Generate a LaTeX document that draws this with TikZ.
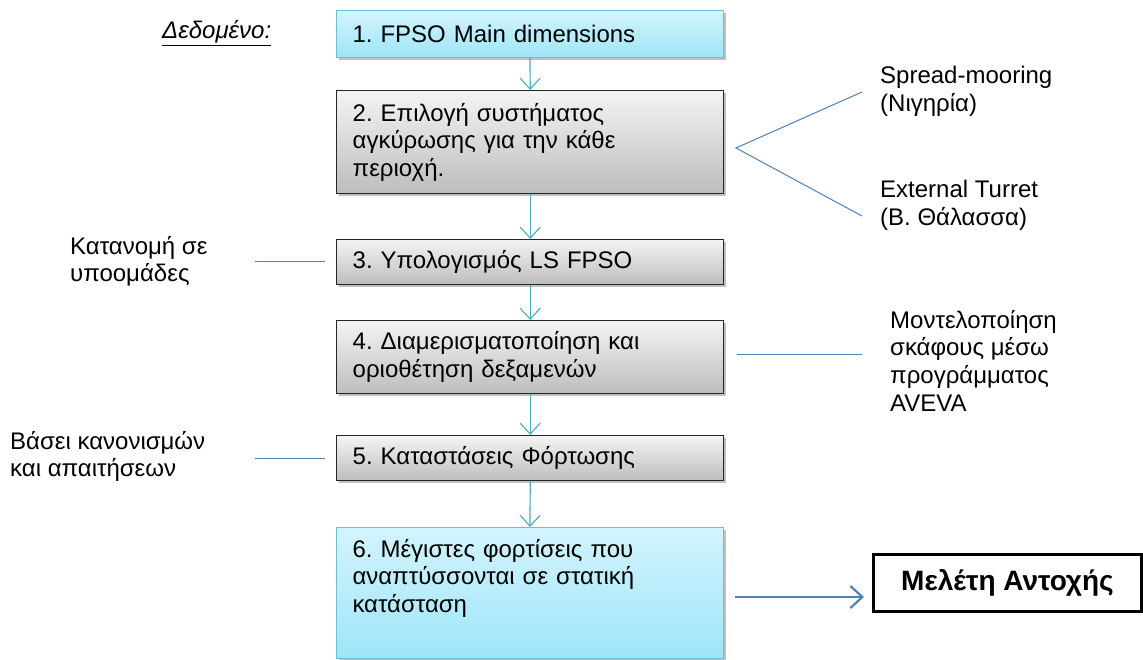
\documentclass[tikz,border=0pt]{standalone}
\usepackage{fontspec}
\setmainfont{Liberation Sans}
\usetikzlibrary{arrows.meta,shadows}
\frenchspacing

\definecolor{arrowteal}{HTML}{4BACC6}
\definecolor{linkblue}{HTML}{4F81BD}
\definecolor{cyantop}{HTML}{D3F4FD}
\definecolor{cyanbot}{HTML}{9EE5F8}
\definecolor{cyanedge}{HTML}{6FBFD3}
\definecolor{graytop}{HTML}{F4F4F4}
\definecolor{graybot}{HTML}{BDBDBD}

\tikzset{
  x=1pt, y=-1pt,
  basebox/.style={rectangle, minimum width=387pt, inner xsep=16pt, inner ysep=0pt,
    text width=355pt, align=left, anchor=north west,
    font=\fontsize{24}{27.6}\selectfont,
    drop shadow={shadow xshift=2pt, shadow yshift=-2.5pt, opacity=0.35, fill=black!70}},
  cyanbox/.style={basebox, draw=cyanedge, line width=1pt,
    top color=cyantop, bottom color=cyanbot},
  graybox/.style={basebox, draw=black!85, line width=1.4pt,
    top color=graytop, bottom color=graybot},
  flow/.style={draw=arrowteal, line width=1.2pt,
    -{Straight Barb[length=11pt, width=20pt, line width=1.1pt]}},
  link/.style={draw=linkblue, line width=1pt},
  sidetext/.style={anchor=north west, inner sep=0pt, align=left,
    font=\fontsize{24}{27.6}\selectfont},
}

\begin{document}
\begin{tikzpicture}
\useasboundingbox (0,0) rectangle (1143,660);
\fill[white] (0,0) rectangle (1143,660);

% main chain of steps
\node[cyanbox, minimum height=47pt] (s1) at (336,10) {1. FPSO Main dimensions};
\node[graybox, minimum height=103pt] (s2) at (336,90)
  {2. Επιλογή συστήματος\\αγκύρωσης για την κάθε\\περιοχή.};
\node[graybox, minimum height=45pt] (s3) at (336,239) {3. Υπολογισμός LS FPSO};
\node[graybox, minimum height=73pt] (s4) at (336,320)
  {4. Διαμερισματοποίηση και\\οριοθέτηση δεξαμενών};
\node[graybox, minimum height=45pt] (s5) at (336,435) {5. Καταστάσεις Φόρτωσης};
\node[cyanbox, minimum height=131pt] (s6) at (336,527)
  {\parbox[c][108pt][t]{355pt}{\raggedright 6. Μέγιστες φορτίσεις που\\αναπτύσσονται σε στατική\\κατάσταση}};

% final target
\node[draw=black, line width=3pt, rectangle, minimum width=268pt, minimum height=57pt,
  anchor=north west, font=\bfseries\fontsize{28}{32}\selectfont] (res) at (872,553)
  {Μελέτη Αντοχής};

% flow arrows
\draw[flow] (s1.south) -- (s2.north);
\draw[flow] (s2.south) -- (s3.north);
\draw[flow] (s3.south) -- (s4.north);
\draw[flow] (s4.south) -- (s5.north);
\draw[flow] (s5.south) -- (s6.north);

\coordinate (a6) at (735,597);
\coordinate (ares) at (864,597);
\draw[draw=linkblue, line width=2.6pt,
  -{Straight Barb[length=12pt, width=22pt, line width=2.2pt]}] (a6) -- (ares);

% given
\node[anchor=west, inner sep=0pt, font=\itshape\fontsize{24}{28}\selectfont] (given) at (162,33)
  {\underline{Δεδομένο:}};

% notes and their links
\node[sidetext] (n1a) at (880,66) {Spread-mooring\\(Νιγηρία)};
\node[sidetext] (n1b) at (880,180) {External Turret\\(Β. Θάλασσα)};
\coordinate (fork) at (736,148);
\coordinate (forkup) at (862,92);
\coordinate (forkdn) at (862,216);
\draw[link] (forkup) -- (fork) -- (forkdn);

\node[sidetext] (n3) at (70,236) {Κατανομή σε\\υποομάδες};
\coordinate (l3a) at (255,262);
\coordinate (l3b) at (325,262);
\draw[link] (l3a) -- (l3b);

\node[sidetext] (n4) at (890,310) {Μοντελοποίηση\\σκάφους μέσω\\προγράμματος\\AVEVA};
\coordinate (l4a) at (737,354);
\coordinate (l4b) at (862,354);
\draw[link] (l4a) -- (l4b);

\node[sidetext] (n5) at (10,431) {Βάσει κανονισμών\\και απαιτήσεων};
\coordinate (l5a) at (255,458);
\coordinate (l5b) at (325,458);
\draw[link] (l5a) -- (l5b);
\end{tikzpicture}
\end{document}
